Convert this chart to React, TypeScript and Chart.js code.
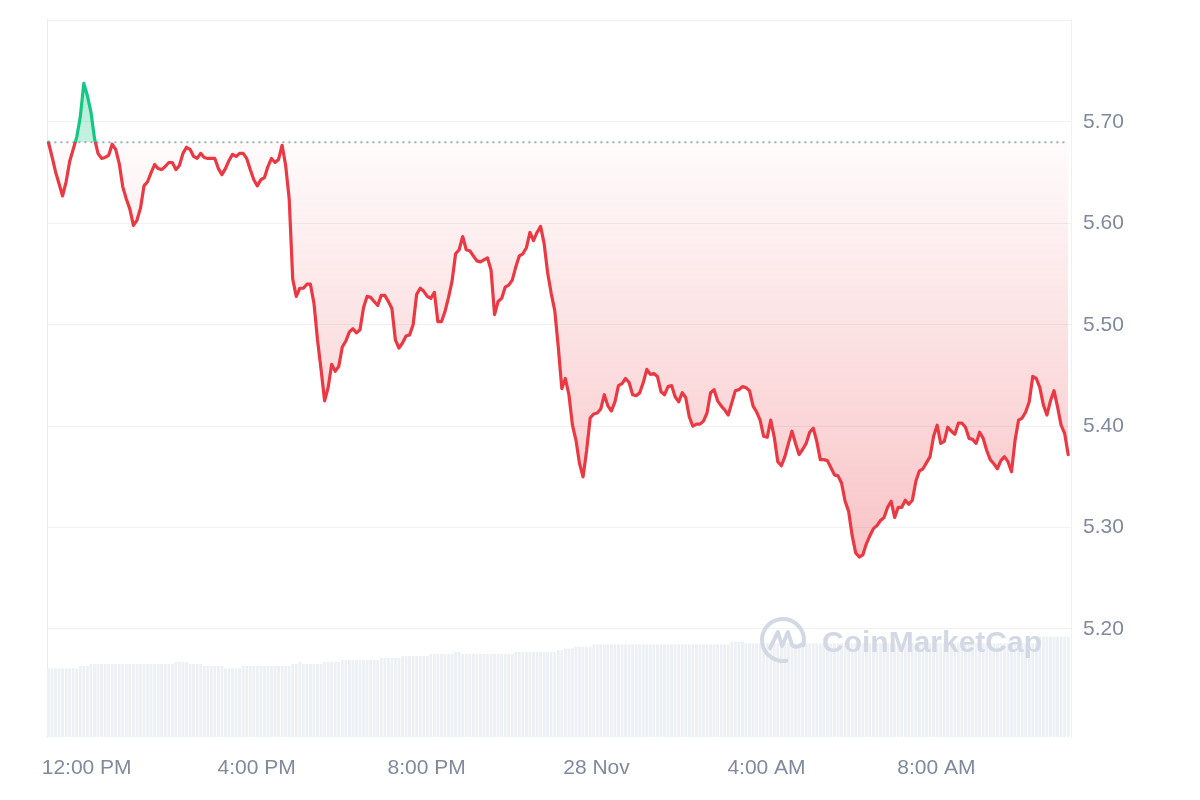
import React, { useEffect, useRef } from 'react';
import { Chart, registerables } from 'chart.js';

Chart.register(...registerables);

// Time axis: minutes after midnight of 27 Nov; first sample at 11:06 AM, 5-minute samples
const START_MIN = 666;
const STEP_MIN = 5;

// Price samples (USD), one per 5 minutes
const prices: number[] = [
  5.680, 5.666, 5.651, 5.639, 5.627, 5.641, 5.661, 5.673, 5.685, 5.705,
  5.738, 5.726, 5.710, 5.684, 5.669, 5.664, 5.665, 5.667, 5.678, 5.673,
  5.659, 5.636, 5.624, 5.614, 5.598, 5.603, 5.615, 5.637, 5.641, 5.650,
  5.658, 5.654, 5.653, 5.656, 5.660, 5.660, 5.653, 5.657, 5.669, 5.675,
  5.673, 5.666, 5.664, 5.669, 5.665, 5.664, 5.664, 5.664, 5.654, 5.648,
  5.654, 5.662, 5.668, 5.666, 5.669, 5.669, 5.664, 5.653, 5.643, 5.637,
  5.643, 5.645, 5.656, 5.664, 5.660, 5.663, 5.677, 5.657, 5.624, 5.545,
  5.528, 5.536, 5.536, 5.540, 5.540, 5.521, 5.485, 5.456, 5.425, 5.438,
  5.461, 5.454, 5.459, 5.478, 5.484, 5.493, 5.496, 5.492, 5.495, 5.517,
  5.528, 5.527, 5.523, 5.519, 5.529, 5.529, 5.523, 5.516, 5.485, 5.477,
  5.482, 5.489, 5.490, 5.500, 5.530, 5.536, 5.533, 5.528, 5.526, 5.532,
  5.503, 5.503, 5.513, 5.527, 5.543, 5.570, 5.574, 5.587, 5.574, 5.573,
  5.568, 5.563, 5.562, 5.564, 5.566, 5.554, 5.510, 5.523, 5.526, 5.537,
  5.539, 5.544, 5.557, 5.568, 5.570, 5.576, 5.591, 5.583, 5.591, 5.597,
  5.580, 5.551, 5.531, 5.514, 5.478, 5.437, 5.447, 5.431, 5.401, 5.386,
  5.363, 5.350, 5.376, 5.408, 5.412, 5.413, 5.417, 5.431, 5.420, 5.415,
  5.424, 5.440, 5.442, 5.447, 5.443, 5.431, 5.430, 5.433, 5.443, 5.456,
  5.451, 5.452, 5.449, 5.434, 5.431, 5.439, 5.440, 5.429, 5.424, 5.433,
  5.428, 5.409, 5.400, 5.402, 5.402, 5.405, 5.413, 5.433, 5.436, 5.425,
  5.420, 5.416, 5.411, 5.423, 5.435, 5.436, 5.439, 5.438, 5.435, 5.420,
  5.414, 5.406, 5.390, 5.389, 5.406, 5.389, 5.365, 5.361, 5.370, 5.383,
  5.395, 5.383, 5.372, 5.377, 5.383, 5.394, 5.398, 5.385, 5.367, 5.367,
  5.366, 5.359, 5.352, 5.351, 5.344, 5.326, 5.316, 5.292, 5.275, 5.271,
  5.273, 5.284, 5.292, 5.299, 5.302, 5.307, 5.310, 5.320, 5.326, 5.310,
  5.320, 5.320, 5.327, 5.323, 5.327, 5.346, 5.356, 5.358, 5.364, 5.370,
  5.390, 5.401, 5.383, 5.385, 5.399, 5.395, 5.392, 5.403, 5.403, 5.399,
  5.388, 5.387, 5.383, 5.394, 5.388, 5.376, 5.367, 5.363, 5.358, 5.366,
  5.370, 5.365, 5.355, 5.386, 5.406, 5.408, 5.414, 5.424, 5.449, 5.447,
  5.438, 5.421, 5.411, 5.425, 5.435, 5.419, 5.401, 5.393, 5.372,
];

// Volume bars (millions), stored as levels and how many consecutive 5-minute bars hold each level
const volumeLevels: number[] = [
  9.57, 9.89, 10.17, 10.45, 10.17, 9.89, 9.57, 9.89, 10.17, 10.45,
  10.17, 10.45, 10.72, 11.0, 11.28, 11.56, 11.84, 11.56, 11.84, 12.12,
  12.35, 12.58, 12.91, 13.27, 13.05, 13.97,
];
const volumeRuns: number[] = [
  9, 3, 24, 4, 4, 6, 5, 14, 2, 1,
  6, 5, 11, 6, 8, 7, 2, 15, 12, 2,
  3, 5, 39, 4, 83, 9,
];

// X tick positions (minutes after midnight 27 Nov) and their labels
const tickMinutes: number[] = [720, 960, 1200, 1440, 1680, 1920];
const tickLabels: string[] = ['12:00 PM', '4:00 PM', '8:00 PM', '28 Nov', '4:00 AM', '8:00 AM'];

// Price axis ticks
const priceTicks: number[] = [5.2, 5.3, 5.4, 5.5, 5.6, 5.7, 5.8];

const RED = '#ea3943';
const GREEN = '#16c784';
const FONT = '"Liberation Sans", Arial, Helvetica, sans-serif';
const LABEL_COLOR = '#808a9d';
const GRID_COLOR = '#eff1f4';

export default function App() {
  const ref = useRef<HTMLCanvasElement>(null);

  useEffect(() => {
    const canvas = ref.current;
    if (!canvas) return;
    const base = prices[0];
    const times = prices.map((_, i) => START_MIN + i * STEP_MIN);
    const volumes: number[] = [];
    volumeLevels.forEach((v, k) => {
      for (let j = 0; j < volumeRuns[k]; j++) volumes.push(v);
    });

    const basePixel = (chart: any) => chart.scales.y.getPixelForValue(base);

    const lineColor = (c: any) => {
      const chart = c.chart;
      const area = chart.chartArea;
      if (!area) return RED;
      const yb = basePixel(chart);
      const g = chart.ctx.createLinearGradient(0, area.top, 0, area.bottom);
      const s = Math.min(1, Math.max(0, (yb - area.top) / (area.bottom - area.top)));
      g.addColorStop(0, GREEN);
      g.addColorStop(s, GREEN);
      g.addColorStop(s, RED);
      g.addColorStop(1, RED);
      return g;
    };

    const belowFill = (c: any) => {
      const chart = c.chart;
      const area = chart.chartArea;
      if (!area) return 'rgba(234,57,67,0.1)';
      const yb = basePixel(chart);
      const g = chart.ctx.createLinearGradient(0, yb, 0, area.bottom);
      g.addColorStop(0, 'rgba(234,57,67,0.02)');
      g.addColorStop(1, 'rgba(234,57,67,0.42)');
      return g;
    };

    const aboveFill = (c: any) => {
      const chart = c.chart;
      const area = chart.chartArea;
      if (!area) return 'rgba(22,199,132,0.3)';
      const yb = basePixel(chart);
      const g = chart.ctx.createLinearGradient(0, area.top, 0, yb);
      g.addColorStop(0, 'rgba(22,199,132,0.4)');
      g.addColorStop(1, 'rgba(22,199,132,0.25)');
      return g;
    };

    const watermark = {
      id: 'watermark',
      afterDatasetsDraw(chart: any) {
        const { ctx, chartArea } = chart;
        const cx = chartArea.right - 288;
        const cy = chartArea.bottom - 97;
        const col = '#d3d9e4';
        ctx.save();
        ctx.strokeStyle = col;
        ctx.lineWidth = 4;
        ctx.lineCap = 'round';
        ctx.lineJoin = 'round';
        ctx.beginPath();
        ctx.arc(cx, cy, 21, 0.45 * Math.PI, 2.08 * Math.PI);
        ctx.stroke();
        ctx.beginPath();
        ctx.moveTo(cx - 13, cy + 8);
        ctx.lineTo(cx - 5, cy - 8);
        ctx.lineTo(cx - 1, cy + 6);
        ctx.lineTo(cx + 5, cy - 8);
        ctx.lineTo(cx + 9, cy + 5);
        ctx.quadraticCurveTo(cx + 13, cy + 9, cx + 20, cy + 4);
        ctx.stroke();
        ctx.fillStyle = col;
        ctx.font = 'bold 30px ' + FONT;
        ctx.textBaseline = 'alphabetic';
        ctx.textAlign = 'left';
        ctx.fillText('CoinMarketCap', cx + 39, cy + 12);
        ctx.restore();
      },
    };

    const chart = new Chart(canvas, {
      type: 'line',
      data: {
        datasets: [
          {
            type: 'line',
            label: 'Price',
            data: prices.map((p, i) => ({ x: times[i], y: p })),
            yAxisID: 'y',
            order: 0,
            borderWidth: 3.2,
            pointRadius: 0,
            tension: 0,
            borderJoinStyle: 'round',
            borderCapStyle: 'round',
            borderColor: lineColor,
            fill: { target: { value: base }, above: aboveFill, below: belowFill },
          } as any,
          {
            type: 'line',
            label: 'Open',
            data: [
              { x: times[0], y: base },
              { x: times[times.length - 1], y: base },
            ],
            yAxisID: 'y',
            order: 1,
            borderColor: '#a3abba',
            borderWidth: 2,
            borderDash: [2, 4],
            pointRadius: 0,
            fill: false,
          } as any,
          {
            type: 'bar',
            label: 'Volume',
            data: volumes.map((v, i) => ({ x: times[i], y: v })),
            yAxisID: 'yv',
            order: 2,
            backgroundColor: '#edf0f4',
            barPercentage: 0.8,
            categoryPercentage: 1,
          } as any,
        ],
      },
      options: {
        responsive: false,
        animation: false,
        devicePixelRatio: 1,
        layout: { padding: { top: 19, left: 0, right: 0, bottom: 0 } },
        plugins: { legend: { display: false }, tooltip: { enabled: false } },
        scales: {
          x: {
            type: 'linear',
            min: 664,
            max: 2110,
            offset: false,
            grid: { display: false, drawTicks: false, offset: false },
            border: { display: false },
            afterBuildTicks: (s: any) => {
              s.ticks = tickMinutes.map((v) => ({ value: v }));
            },
            afterFit: (s: any) => {
              s.height = 63;
              s.paddingLeft = 0;
              s.paddingRight = 0;
            },
            ticks: {
              autoSkip: false,
              maxRotation: 0,
              padding: 19,
              color: LABEL_COLOR,
              font: { family: FONT, size: 21 },
              callback: (v: any) => {
                const k = tickMinutes.indexOf(Number(v));
                return k >= 0 ? tickLabels[k] : '';
              },
            },
          },
          y: {
            type: 'linear',
            position: 'right',
            min: 5.0935,
            max: 5.8015,
            afterBuildTicks: (s: any) => {
              s.ticks = priceTicks.map((v) => ({ value: v }));
            },
            afterFit: (s: any) => {
              s.width = 129;
              s.paddingTop = 0;
              s.paddingBottom = 0;
            },
            grid: { color: GRID_COLOR, drawTicks: false, lineWidth: 1 },
            border: { display: true, color: GRID_COLOR },
            ticks: {
              padding: 12,
              color: LABEL_COLOR,
              font: { family: FONT, size: 21 },
              callback: (v: any) => (Number(v) > 5.75 ? '' : Number(v).toFixed(2)),
            },
          },
          yv: {
            type: 'linear',
            position: 'left',
            min: 0,
            max: 100,
            grid: { display: false, drawTicks: false },
            border: { display: true, color: '#e9ebef' },
            ticks: { display: false },
            afterFit: (s: any) => {
              s.width = 47;
              s.paddingTop = 0;
              s.paddingBottom = 0;
            },
          },
        },
      } as any,
      plugins: [watermark],
    });

    return () => chart.destroy();
  }, []);

  return (
    <div style={{ position: 'fixed', left: 0, top: 0, width: 1200, height: 800, background: '#ffffff' }}>
      <canvas ref={ref} width={1200} height={800} style={{ display: 'block', width: 1200, height: 800 }} />
    </div>
  );
}
